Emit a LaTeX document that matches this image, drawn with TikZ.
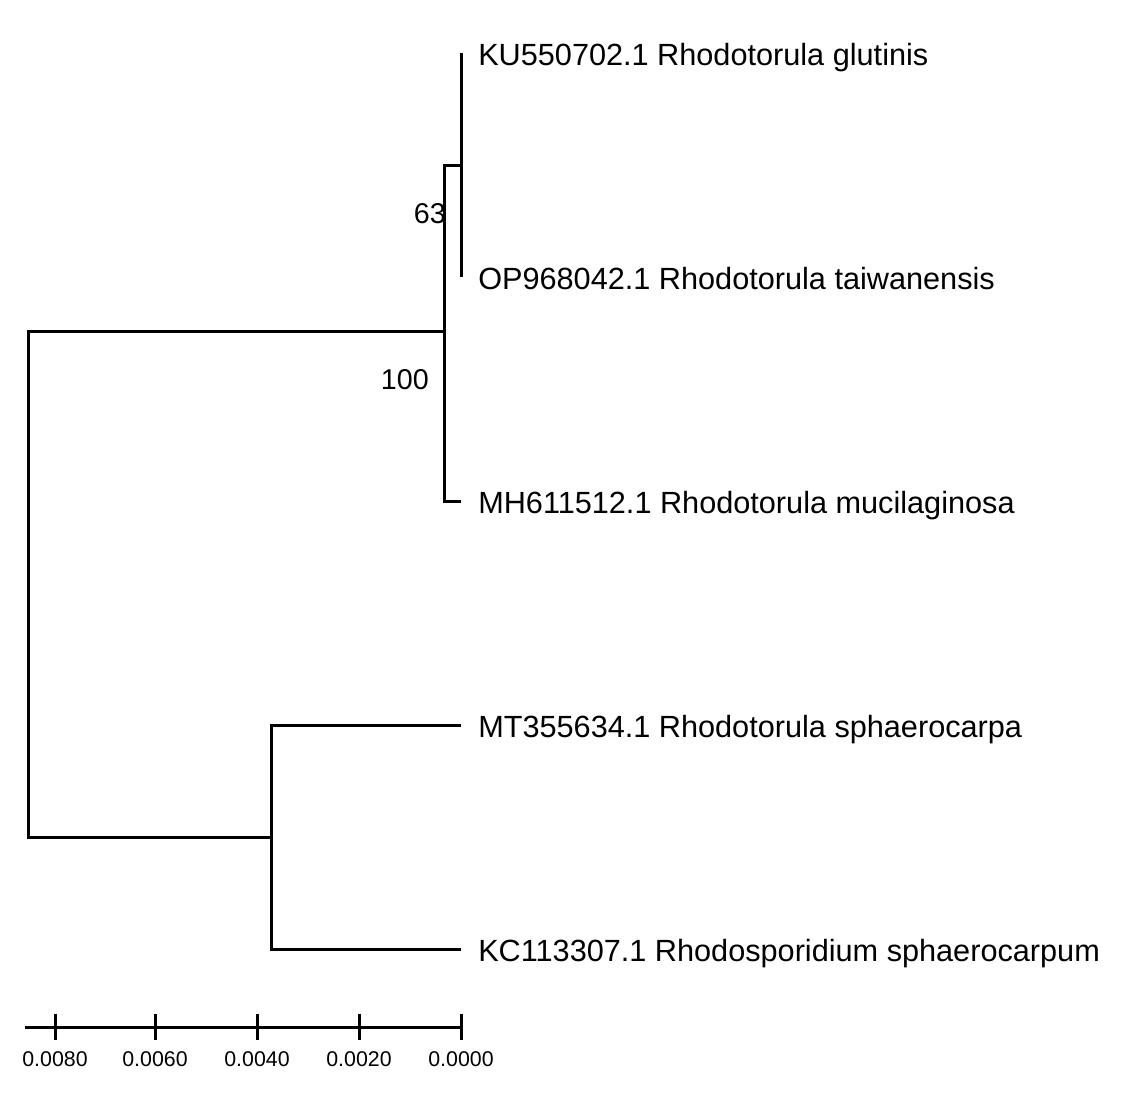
\documentclass[tikz,border=0pt]{standalone}
\usepackage{fontspec}
\setmainfont{Liberation Sans}
\begin{document}
\begin{tikzpicture}[x=0.75pt,y=-0.75pt,
  branch/.style={line width=2.25pt,line join=miter,black},
  leaflabel/.style={anchor=base west,inner sep=0pt,font=\fontsize{23}{27}\selectfont},
  bootlabel/.style={anchor=base east,inner sep=0pt,font=\fontsize{21.5}{26}\selectfont},
  ticklabel/.style={anchor=base,inner sep=0pt,font=\fontsize{16}{19}\selectfont}]
\useasboundingbox (0,0) rectangle (1126,1092);
% leaf tips and internal nodes
\coordinate (tKU) at (461,53);
\coordinate (tOP) at (461,277);
\coordinate (tMH) at (461,501);
\coordinate (tMT) at (461,725);
\coordinate (tKC) at (461,949);
\coordinate (n63) at (461,165);
\coordinate (n100) at (444,331);
\coordinate (nlow) at (271,837);
\coordinate (root) at (28,584);
% branches
\draw[branch] (tKU) -- (tOP);
\draw[branch] (n63) -| (n100) |- (tMH);
\draw[branch] (tMT) -| (nlow) |- (tKC);
\draw[branch] (n100) -| (root) |- (nlow);
% leaf labels
\node[leaflabel] (lKU) at (478,65) {KU550702.1 Rhodotorula glutinis};
\node[leaflabel] (lOP) at (478,289) {OP968042.1 Rhodotorula taiwanensis};
\node[leaflabel] (lMH) at (478,513) {MH611512.1 Rhodotorula mucilaginosa};
\node[leaflabel] (lMT) at (478,737) {MT355634.1 Rhodotorula sphaerocarpa};
\node[leaflabel] (lKC) at (478,961) {KC113307.1 Rhodosporidium sphaerocarpum};
% bootstrap values
\node[bootlabel] (b63) at (446,223) {63};
\node[bootlabel] (b100) at (429,389) {100};
% scale bar
\coordinate (sbL) at (25,1027);
\coordinate (sbR) at (463,1027);
\draw[branch] (sbL) -- (sbR);
\foreach \x/\t/\n in {55/0.0080/a,155/0.0060/b,257/0.0040/c,359/0.0020/d,461/0.0000/e}{
  \draw[branch] (\x,1014) -- (\x,1040);
  \node[ticklabel] (tick\n) at (\x,1066) {\t};
}
\end{tikzpicture}
\end{document}
